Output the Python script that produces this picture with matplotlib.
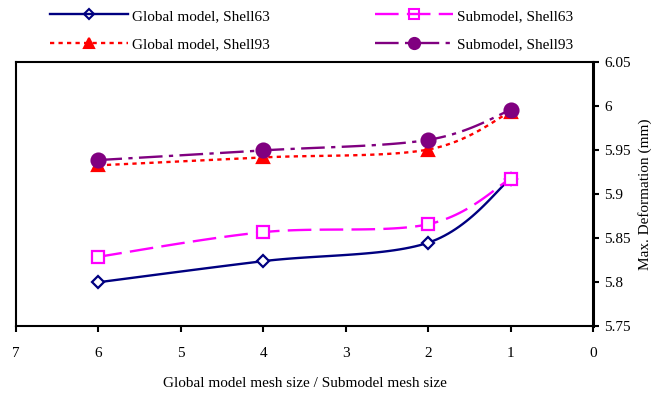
import numpy as np
import matplotlib.pyplot as plt

# Datos
mesh_ratio = [6, 4, 2, 1]
global_s63 = [5.800, 5.824, 5.845, 5.918]
sub_s63 = [5.829, 5.857, 5.866, 5.918]
global_s93 = [5.933, 5.942, 5.951, 5.994]
sub_s93 = [5.939, 5.950, 5.962, 5.996]


def smooth(x, y, n=30):
    # curva suavizada tipo Excel (Catmull-Rom por tramos de Bezier)
    x = np.asarray(x, float)
    y = np.asarray(y, float)
    p = np.column_stack([x, y])
    out = []
    for i in range(len(p) - 1):
        p0 = p[i - 1] if i > 0 else p[i]
        p1, p2 = p[i], p[i + 1]
        p3 = p[i + 2] if i + 2 < len(p) else p[i + 1]
        c1 = p1 + (p2 - p0) / 6
        c2 = p2 - (p3 - p1) / 6
        t = np.linspace(0, 1, n)[:, None]
        seg = ((1 - t) ** 3) * p1 + 3 * ((1 - t) ** 2) * t * c1 + 3 * (1 - t) * t ** 2 * c2 + t ** 3 * p2
        out.append(seg if i == 0 else seg[1:])
    s = np.vstack(out)
    return s[:, 0], s[:, 1]


plt.rcParams['font.family'] = ['Liberation Serif', 'DejaVu Serif']
plt.rcParams['font.size'] = 11

fig = plt.figure(figsize=(6.65, 3.93), dpi=100)
ax = fig.add_axes([0.024, 0.170, 0.868, 0.671])

series = [
    (global_s63, 'Global model, Shell63', '#000080', '-', 'D', 'none', 6.5),
    (sub_s63, 'Submodel, Shell63', '#FF00FF', (0, (10, 3.5)), 's', 'none', 8.5),
    (global_s93, 'Global model, Shell93', '#FF0000', (0, (1.8, 1.8)), '^', '#FF0000', 9),
    (sub_s93, 'Submodel, Shell93', '#800080', (0, (10, 2.7, 1.8, 2.7)), 'o', '#800080', 10),
]

handles = []
for vals, label, col, ls, mk, mfc, ms in series:
    xs, ys = smooth(mesh_ratio, vals)
    ax.plot(xs, ys, color=col, linestyle=ls, linewidth=1.7)
    ax.plot(mesh_ratio, vals, linestyle='none', marker=mk, markersize=ms,
            markerfacecolor=mfc if mfc != 'none' else 'white', markeredgecolor=col,
            markeredgewidth=1.6)
    h, = ax.plot([], [], color=col, linestyle=ls, linewidth=1.7, marker=mk,
                 markersize=ms * 0.8, markerfacecolor=mfc, markeredgecolor=col,
                 markeredgewidth=1.5, label=label)
    handles.append(h)

ax.set_xlim(7, 0)
ax.set_ylim(5.75, 6.05)
ax.set_xticks(range(7, -1, -1))
ax.set_yticks([5.75, 5.8, 5.85, 5.9, 5.95, 6.0, 6.05])
ax.set_yticklabels(['5.75', '5.8', '5.85', '5.9', '5.95', '6', '6.05'])
ax.yaxis.tick_right()
ax.yaxis.set_label_position('right')
ax.tick_params(axis='x', direction='out', length=4, width=1.5, pad=11)
ax.tick_params(axis='y', direction='out', length=4, width=1.5, pad=4)
for s in ax.spines.values():
    s.set_linewidth(1.5)
ax.spines['right'].set_linewidth(2.2)

ax.set_xlabel('Global model mesh size / Submodel mesh size', labelpad=12)
ax.set_ylabel('Max. Deformation (mm)', labelpad=5)

# orden de la leyenda: fila 1 Shell63, fila 2 Shell93
fig.legend(handles=[handles[0], handles[2], handles[1], handles[3]],
           loc='upper left', bbox_to_anchor=(0.075, 0.977), ncol=2, frameon=False,
           borderpad=0, borderaxespad=0, handlelength=5.1, columnspacing=6.9,
           labelspacing=0.95, handletextpad=0.27)

fig.savefig('out.png', dpi=100)
